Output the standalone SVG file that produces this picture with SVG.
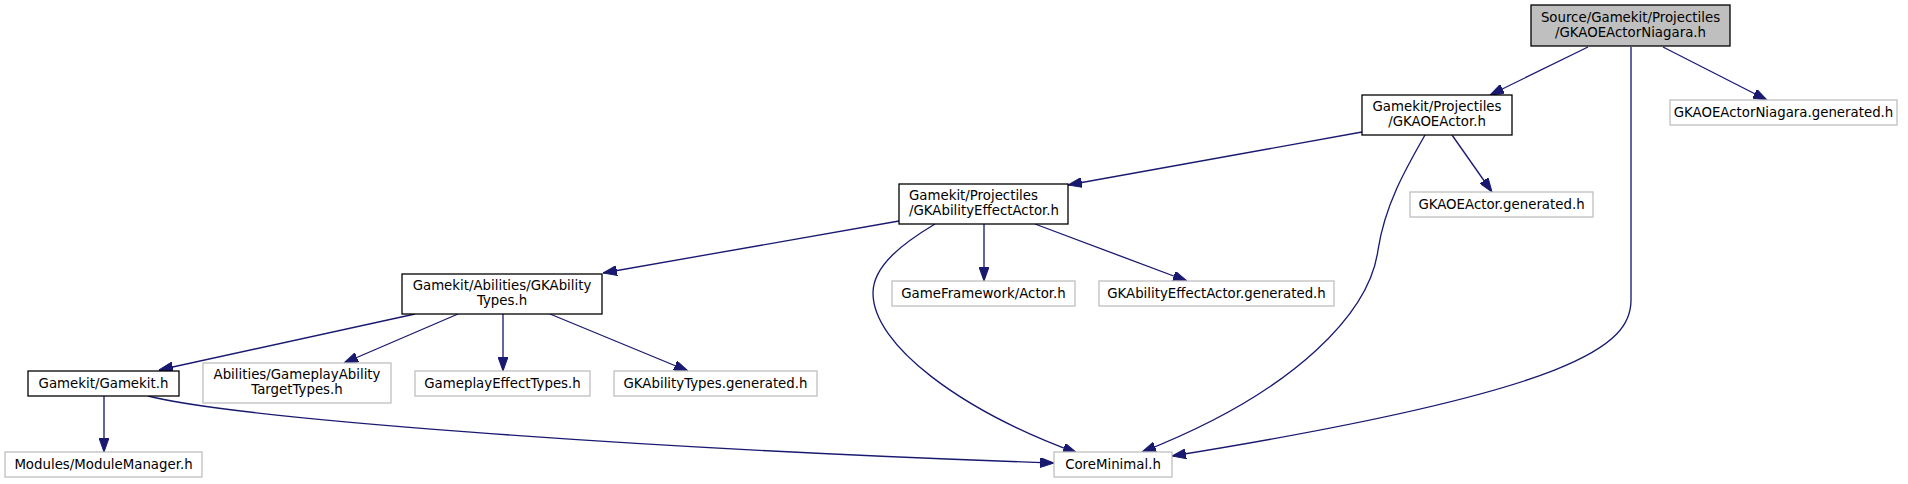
<svg xmlns="http://www.w3.org/2000/svg" width="1908" height="484" viewBox="0 0 1908 484">
<style>
.bg{fill:#ffffff}
.n rect{fill:#ffffff;stroke:#000000;stroke-width:1.3}
.x rect{fill:#ffffff;stroke:#bfbfbf;stroke-width:1.3}
.root rect{fill:#bfbfbf;stroke:#000000;stroke-width:1.3}
text{font-family:"DejaVu Sans",sans-serif;font-size:13.33px;fill:#000000}
.c{text-anchor:middle}
.e path{fill:none;stroke:#191970;stroke-width:1.33;marker-end:url(#ah)}
</style>
<defs>
<marker id="ah" markerUnits="userSpaceOnUse" markerWidth="14" markerHeight="10" refX="14" refY="5" orient="auto" viewBox="0 0 14 10">
<path d="M0,0 L14,5 L0,10 z" fill="#191970" stroke="#191970" stroke-width="1"/>
</marker>
</defs>
<rect class="bg" x="0" y="0" width="1908" height="484"/>
<g id="edges" class="e">
<path d="M1588,47 L1490,95"/>
<path d="M1663,47 L1767,100"/>
<path d="M1631,47 L1631,300 C1631,345 1580,390 1172,456"/>
<path d="M1362,132 L1068,185"/>
<path d="M1452,135 L1492,192"/>
<path d="M1425,135 C1405,170 1385,205 1378,250 C1370,310 1300,390 1142,452"/>
<path d="M899,221 L603,273"/>
<path d="M984,224 L984,281"/>
<path d="M1035,224 L1187,281"/>
<path d="M935,224 C905,242 873,265 873,293 C873,345 960,410 1077,453"/>
<path d="M415,314 L159,370"/>
<path d="M458,314 L344,363"/>
<path d="M503,314 L503,371"/>
<path d="M550,314 L688,371"/>
<path d="M104,396 L104,452"/>
<path d="M148,396 C235,418 620,448 1054,463"/>
</g>
<g id="n_root" class="root"><rect x="1531" y="5" width="199" height="41"/><text class="c" x="1630.5" y="22">Source/Gamekit/Projectiles</text><text class="c" x="1630.5" y="37">/GKAOEActorNiagara.h</text></g>
<g id="n_aoeactor" class="n"><rect x="1362" y="95" width="150" height="40"/><text class="c" x="1437" y="111">Gamekit/Projectiles</text><text class="c" x="1437" y="126">/GKAOEActor.h</text></g>
<g id="n_niagara_gen" class="x"><rect x="1670" y="100" width="227" height="25"/><text class="c" x="1783.5" y="117">GKAOEActorNiagara.generated.h</text></g>
<g id="n_aoeactor_gen" class="x"><rect x="1410" y="192" width="183" height="25"/><text class="c" x="1501.5" y="209">GKAOEActor.generated.h</text></g>
<g id="n_effectactor" class="n"><rect x="899" y="184" width="169" height="40"/><text x="909" y="200">Gamekit/Projectiles</text><text x="909" y="215">/GKAbilityEffectActor.h</text></g>
<g id="n_actor" class="x"><rect x="892" y="281" width="183" height="25"/><text class="c" x="983.5" y="298">GameFramework/Actor.h</text></g>
<g id="n_effectactor_gen" class="x"><rect x="1099" y="281" width="235" height="25"/><text class="c" x="1216.5" y="298">GKAbilityEffectActor.generated.h</text></g>
<g id="n_abilitytypes" class="n"><rect x="402" y="274" width="200" height="40"/><text class="c" x="502" y="290">Gamekit/Abilities/GKAbility</text><text class="c" x="502" y="305">Types.h</text></g>
<g id="n_gamekit" class="n"><rect x="28" y="371" width="151" height="25"/><text class="c" x="103.5" y="388">Gamekit/Gamekit.h</text></g>
<g id="n_targettypes" class="x"><rect x="203" y="363" width="188" height="40"/><text class="c" x="297" y="379">Abilities/GameplayAbility</text><text class="c" x="297" y="394">TargetTypes.h</text></g>
<g id="n_effecttypes" class="x"><rect x="415" y="371" width="175" height="25"/><text class="c" x="502.5" y="388">GameplayEffectTypes.h</text></g>
<g id="n_abilitytypes_gen" class="x"><rect x="614" y="371" width="203" height="25"/><text class="c" x="715.5" y="388">GKAbilityTypes.generated.h</text></g>
<g id="n_modules" class="x"><rect x="5" y="452" width="197" height="25"/><text class="c" x="103.5" y="469">Modules/ModuleManager.h</text></g>
<g id="n_coreminimal" class="x"><rect x="1054" y="452" width="118" height="25"/><text class="c" x="1113" y="469">CoreMinimal.h</text></g>
</svg>
